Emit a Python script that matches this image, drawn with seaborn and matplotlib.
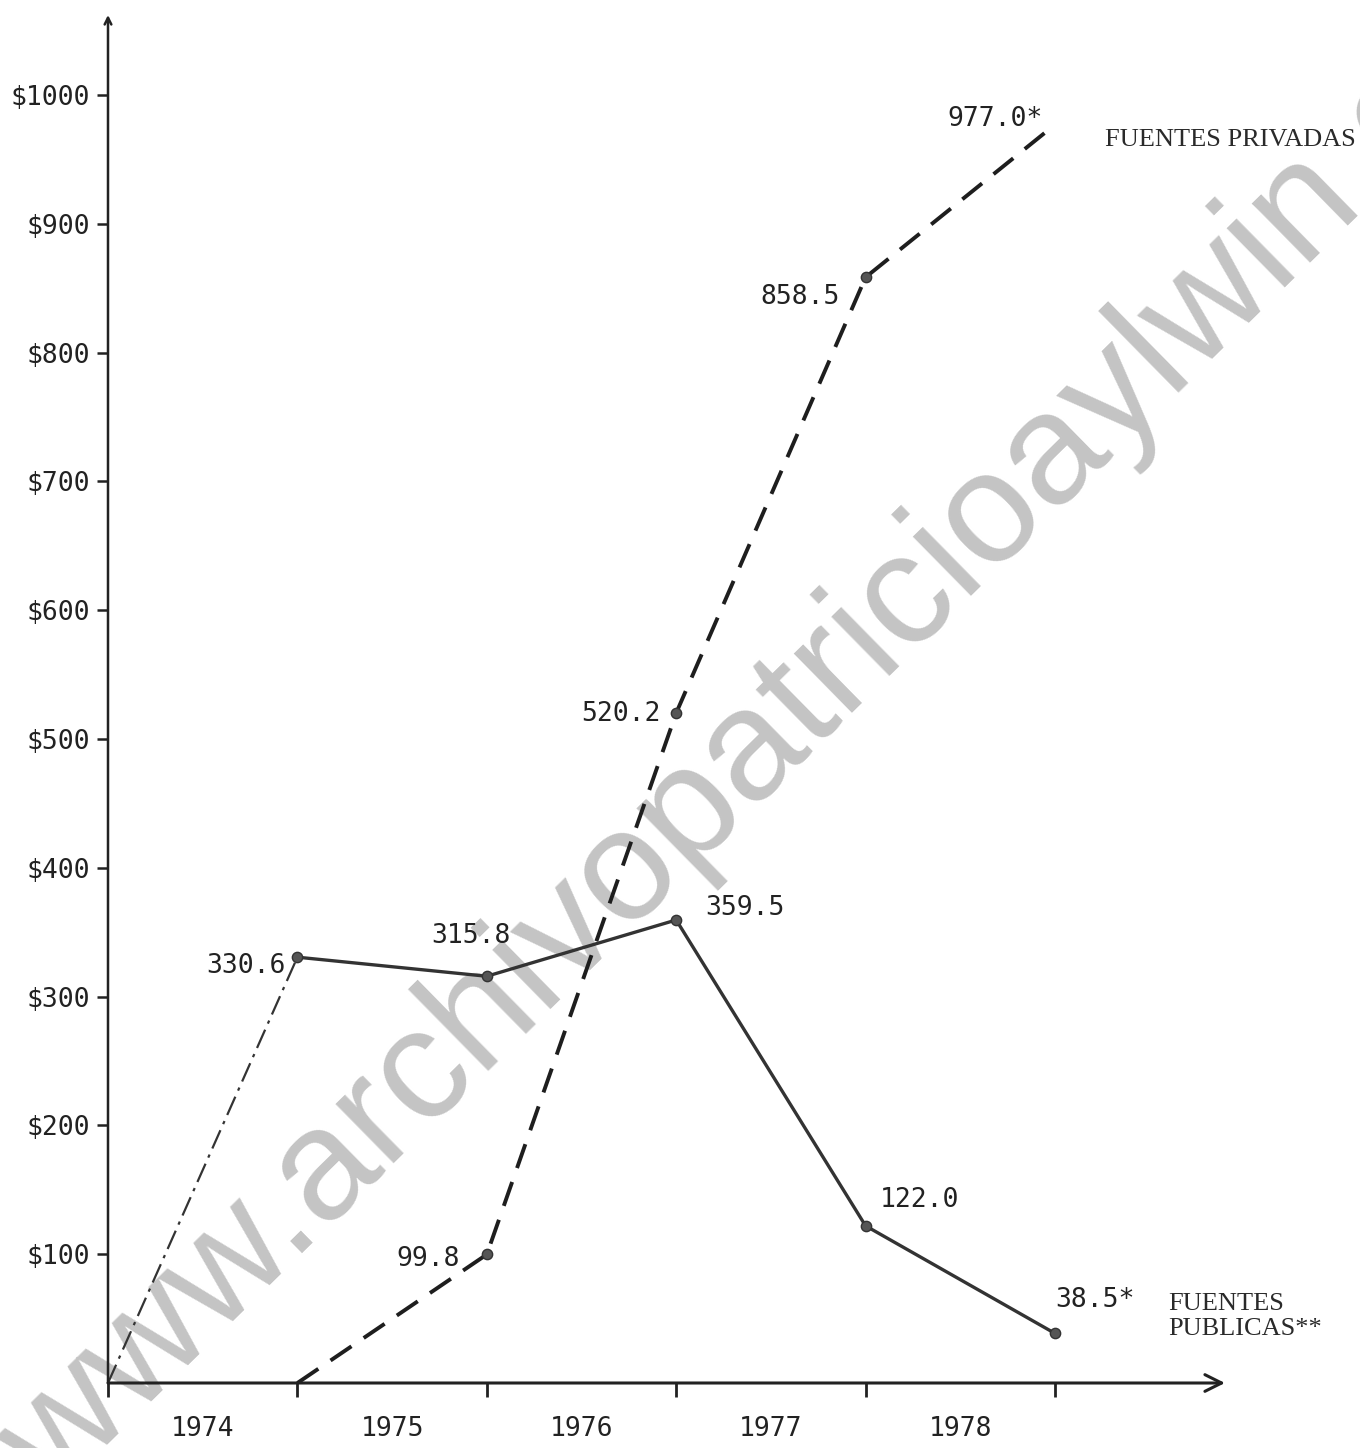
import matplotlib
matplotlib.use("Agg")
import matplotlib.pyplot as plt
import seaborn as sns
import pandas as pd

# ---------------- data ----------------
years = ["1974", "1975", "1976", "1977", "1978"]
year_pos = [0.5, 1.5, 2.5, 3.5, 4.5]
tick_pos = [0, 1, 2, 3, 4, 5]

publicas_x = [0, 1, 2, 3, 4, 5]
publicas = [0.0, 330.6, 315.8, 359.5, 122.0, 38.5]
publicas_labels = ["", "330.6", "315.8", "359.5", "122.0", "38.5*"]

privadas_x = [1, 2, 3, 4, 5]
privadas = [0.0, 99.8, 520.2, 858.5, 977.0]
privadas_labels = ["", "99.8", "520.2", "858.5", "977.0*"]

y_ticks = [100, 200, 300, 400, 500, 600, 700, 800, 900, 1000]
y_tick_labels = ["$100", "$200", "$300", "$400", "$500",
                 "$600", "$700", "$800", "$900", "$1000"]

serie_pub = "FUENTES\nPUBLICAS**"
serie_priv = "FUENTES PRIVADAS"
watermark = "www.archivopatricioaylwin.cl"

# ---------------- style ----------------
sns.set_theme(style="white")
plt.rcParams["font.family"] = ["DejaVu Sans Mono", "DejaVu Sans"]

INK = "#222222"
PX = 1 / 1.3889  # pixels -> points at dpi 100

fig = plt.figure(figsize=(13.6, 14.48), dpi=100)
W, H = 1360, 1448
x0_px, y0_px = 108, 1383
unit_x = 189.4
unit_y = 1.288
xmax = (1225 - x0_px) / unit_x
ymax = (y0_px - 15) / unit_y
ax = fig.add_axes([x0_px / W, (H - y0_px) / H, (1225 - x0_px) / W, (y0_px - 15) / H])
ax.set_xlim(0, xmax)
ax.set_ylim(0, ymax)
for s in ax.spines.values():
    s.set_visible(False)
ax.patch.set_alpha(0)

# watermark (behind the chart)
fig.text(767 / W, 1 - 797 / H, watermark,
         family="Liberation Sans", fontsize=114, color="#c4c4c4",
         rotation=44.5, rotation_mode="anchor", ha="center", va="baseline", zorder=-1)

# axes with arrows
ax.annotate("", xy=(xmax, 0), xytext=(0, 0),
            arrowprops=dict(arrowstyle="->", lw=2.2, color=INK, mutation_scale=30,
                            shrinkA=0, shrinkB=0), annotation_clip=False)
ax.annotate("", xy=(0, ymax), xytext=(0, 0),
            arrowprops=dict(arrowstyle="->", lw=1.8, color=INK, mutation_scale=12,
                            shrinkA=0, shrinkB=0), annotation_clip=False)

# ticks
ax.set_yticks(y_ticks)
ax.set_yticklabels(y_tick_labels)
ax.set_xticks(tick_pos)
ax.set_xticklabels([""] * len(tick_pos))
ax.set_xticks(year_pos, minor=True)
ax.set_xticklabels(years, minor=True)
ax.tick_params(axis="y", which="major", direction="out", length=8, width=1.8,
               color=INK, pad=5, labelsize=19, labelcolor=INK, left=True)
ax.tick_params(axis="x", which="major", direction="out", length=10, width=2,
               color=INK, bottom=True)
ax.tick_params(axis="x", which="minor", length=0, pad=24, labelsize=19,
               labelcolor=INK)
ax.grid(False)

# ---------------- lines ----------------
df_pub = pd.DataFrame({"x": publicas_x, "y": publicas})
df_priv = pd.DataFrame({"x": privadas_x, "y": privadas})

# first public segment (dash-dot)
sns.lineplot(data=df_pub.iloc[:2], x="x", y="y", ax=ax, color="#333333",
             lw=1.6, linestyle=(0, (9, 3, 1.5, 3)), sort=False, estimator=None)
# remaining public segments (solid)
sns.lineplot(data=df_pub.iloc[1:], x="x", y="y", ax=ax, color="#333333",
             lw=2.4, sort=False, estimator=None)
# private (dashed)
sns.lineplot(data=df_priv, x="x", y="y", ax=ax, color="#1e1e1e",
             lw=2.8, linestyle=(0, (6.5, 3.8)), sort=False, estimator=None)

# markers
sns.scatterplot(data=df_pub.iloc[1:], x="x", y="y", ax=ax, color="#555555",
                s=55, edgecolor="#333333", linewidth=1, zorder=5)
sns.scatterplot(data=df_priv.iloc[1:4], x="x", y="y", ax=ax, color="#555555",
                s=55, edgecolor="#333333", linewidth=1, zorder=5)
ax.set_xlabel("")
ax.set_ylabel("")

# ---------------- value labels ----------------
pub_off = [None, (-12, -9, "right"), (-16, 40, "center"), (29, 12, "left"),
           (14, 26, "left"), (0, 33, "left")]
for xv, yv, lab, off in zip(publicas_x, publicas, publicas_labels, pub_off):
    if off is None:
        continue
    ax.annotate(lab, (xv, yv), xytext=(off[0] * PX, off[1] * PX),
                textcoords="offset points", ha=off[2], va="center",
                fontsize=19, color=INK, annotation_clip=False)

priv_off = [None, (-27, -5, "right"), (-16, -1, "right"), (-26, -20, "right"),
            (-12, 6, "right")]
for xv, yv, lab, off in zip(privadas_x, privadas, privadas_labels, priv_off):
    if off is None:
        continue
    ax.annotate(lab, (xv, yv), xytext=(off[0] * PX, off[1] * PX),
                textcoords="offset points", ha=off[2], va="center",
                fontsize=19, color=INK, annotation_clip=False)

# series names
ax.annotate(serie_pub, (publicas_x[-1], publicas[-1]), xytext=(113 * PX, 17 * PX),
            textcoords="offset points", ha="left", va="center",
            family="Liberation Serif", fontsize=19, color="#2a2a2a",
            linespacing=1.2, annotation_clip=False)
ax.annotate(serie_priv, (privadas_x[-1], privadas[-1]), xytext=(50 * PX, -15 * PX),
            textcoords="offset points", ha="left", va="center",
            family="Liberation Serif", fontsize=19, color="#2a2a2a",
            annotation_clip=False)

fig.savefig("out.png", dpi=100)
